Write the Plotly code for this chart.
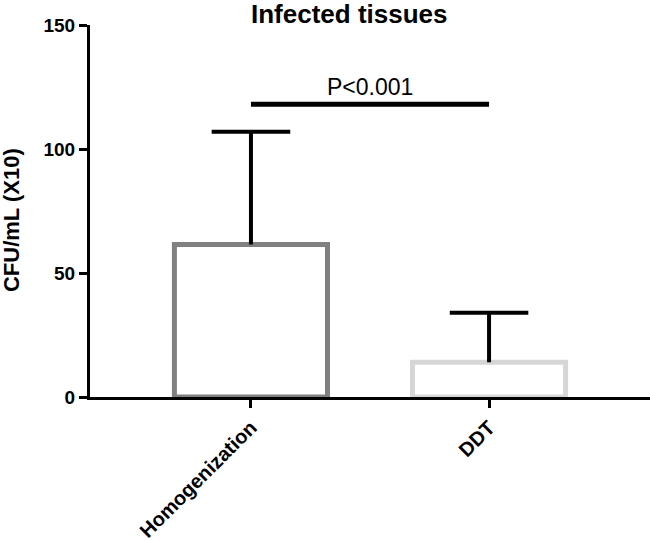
import plotly.graph_objects as go

# Data
groups = ["Homogenization", "DDT"]
means = [61.5, 14.0]
sd_upper = [45.5, 20.0]
outline_colors = ["#808080", "#d6d6d6"]
y_ticks = [0, 50, 100, 150]
sig_y = 118
sig_text = "P<0.001"
title_text = "Infected tissues"
y_title = "CFU/mL (X10)"

FONT = "Liberation Sans, Arial, sans-serif"
BAR_W = 0.643
CAP_HALF = 0.165

xs = list(range(len(groups)))

fig = go.Figure()

fig.add_trace(go.Bar(
    x=xs,
    y=means,
    width=BAR_W,
    marker=dict(color="white", line=dict(color=outline_colors, width=5)),
    showlegend=False,
    hoverinfo="skip",
))

# upper-only error bars (no cap at the bar top)
err_x, err_y = [], []
for i, m, s in zip(xs, means, sd_upper):
    err_x += [i, i, None, i - CAP_HALF, i + CAP_HALF, None]
    err_y += [m, m + s, None, m + s, m + s, None]
fig.add_trace(go.Scatter(
    x=err_x, y=err_y, mode="lines",
    line=dict(color="black", width=4),
    showlegend=False, hoverinfo="skip",
))

# significance bar between the two groups
fig.add_shape(
    type="line", xref="x", yref="y",
    x0=xs[0], x1=xs[-1], y0=sig_y, y1=sig_y,
    line=dict(color="black", width=5),
)

fig.add_annotation(
    x=(xs[0] + xs[-1]) / 2, y=sig_y, xref="x", yref="y",
    text=sig_text, showarrow=False, yanchor="bottom", yshift=2,
    font=dict(family=FONT, size=23, color="black"),
)

fig.add_annotation(
    x=0.464, y=1, xref="paper", yref="paper",
    text=f"<b>{title_text}</b>", showarrow=False,
    xanchor="center", yanchor="bottom", yshift=-6,
    font=dict(family=FONT, size=26, color="black"),
)

fig.add_annotation(
    x=-0.139, y=0.476, xref="paper", yref="paper",
    text=f"<b>{y_title}</b>", showarrow=False, textangle=-90,
    xanchor="center", yanchor="middle",
    font=dict(family=FONT, size=22, color="black"),
)

fig.update_layout(
    width=650,
    height=541,
    margin=dict(l=90, r=0, t=25, b=144),
    plot_bgcolor="white",
    paper_bgcolor="white",
    xaxis=dict(
        range=[-0.676, 1.676],
        tickvals=xs, ticktext=groups,
        showline=True, linecolor="black", linewidth=3,
        ticks="outside", ticklen=8, tickwidth=3, tickcolor="black",
        tickangle=-45,
        tickfont=dict(family=FONT, size=20, color="black", weight="bold"),
        showgrid=False, zeroline=False, automargin=False,
    ),
    yaxis=dict(
        range=[0, 150],
        tickvals=y_ticks,
        showline=True, linecolor="black", linewidth=3,
        ticks="outside", ticklen=8, tickwidth=3, tickcolor="black",
        tickfont=dict(family=FONT, size=19, color="black", weight="bold"),
        showgrid=False, zeroline=False, automargin=False,
    ),
)

# drop the default 8px page margin so the figure sits at the window corner
fig.write_html(
    "out.html",
    config={"displayModeBar": False},
    post_script="document.body.style.margin='0';",
)
